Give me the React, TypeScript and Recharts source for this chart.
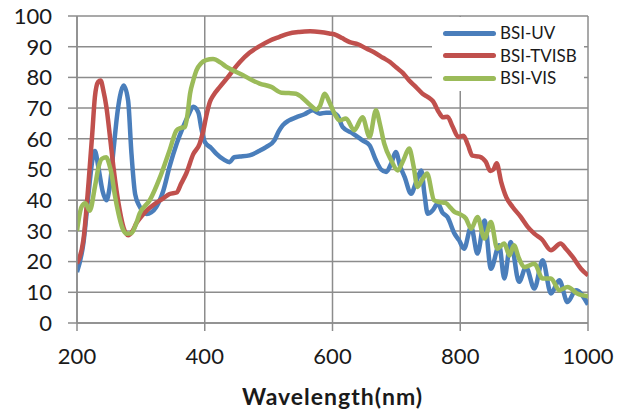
import React from 'react';
import { LineChart, Line, XAxis, YAxis, CartesianGrid } from 'recharts';

const seriesNames = ['BSI-UV', 'BSI-TVISB', 'BSI-VIS'];
const seriesColors = ['#4a7ebb', '#c0504d', '#9bbb59'];
const xTicks = [200, 400, 600, 800, 1000];
const yTicks = [0, 10, 20, 30, 40, 50, 60, 70, 80, 90, 100];
const xLabel = 'Wavelength(nm)';

const uvWavelength = [200, 210, 218, 224, 228, 234, 240, 246, 251, 257, 263, 267, 273, 280, 285, 291, 298, 304, 309, 316, 324, 335, 345, 356, 366, 374, 382, 390, 395, 400, 410, 418, 430, 439, 446, 455, 470, 485, 496, 509, 516, 522, 532, 543, 556, 569, 580, 590, 600, 608, 616, 632, 647, 658, 668, 676, 684, 692, 699, 706, 713, 723, 731, 739, 744, 749, 756, 765, 772, 780, 791, 798, 806, 817, 827, 838, 848, 861, 869, 879, 892, 903, 916, 929, 942, 955, 968, 981, 1000];
const uvValues = [16.6, 26, 42, 53, 56, 50, 43, 40, 44, 56, 68, 73.6, 77.4, 72.5, 56, 42, 38, 36, 35.5, 36, 37.8, 43, 51, 58.4, 63.8, 67.5, 70.4, 68.5, 63, 59, 57, 55.2, 53.2, 52.4, 54, 54.2, 54.6, 56, 57.3, 59.5, 62.5, 64.4, 66, 67, 68, 69.3, 68.2, 68.5, 68.5, 67.5, 63.8, 61.7, 59.5, 57.9, 53, 50, 49.2, 52, 55.7, 51, 47.5, 42.1, 46, 49.7, 42, 35.6, 36.5, 38.9, 36, 34.5, 29.1, 27, 24.2, 31.3, 22.6, 33.4, 17.7, 25.3, 14.5, 26.4, 13.4, 18.2, 11.2, 20.4, 9.6, 13.9, 6.8, 10.7, 6];

const tvisbWavelength = [200, 210, 218, 224, 228, 233, 237, 241, 246, 252, 257, 262, 267, 273, 280, 287, 293, 300, 309, 320, 335, 345, 356, 363, 371, 382, 392, 397, 403, 408, 413, 424, 434, 445, 455, 470, 486, 500, 517, 530, 548, 565, 580, 595, 606, 615, 627, 640, 653, 665, 679, 690, 700, 710, 720, 730, 741, 750, 757, 767, 773, 780, 788, 797, 805, 812, 819, 830, 840, 847, 852, 857, 864, 872, 882, 895, 905, 916, 928, 942, 957, 966, 976, 989, 1000];
const tvisbValues = [19.4, 27, 45.5, 62, 73.6, 78.5, 79, 76, 70.4, 60, 50.8, 43, 36.6, 31, 28.6, 30, 32.5, 34.5, 36.6, 38.5, 40.6, 42, 42.5, 45.4, 48.7, 55, 58.4, 62, 68, 72, 74, 77, 79.5, 82.5, 85, 88, 90.2, 91.8, 93.2, 94.2, 94.8, 95, 94.8, 94.3, 93.8, 92.8, 91.5, 90.8, 89.4, 88.2, 86.4, 85, 83.2, 81.5, 79, 77, 74.7, 73.5, 72.3, 68.5, 67, 67.2, 64, 60.6, 61, 58, 54.5, 54.2, 52.5, 49.5, 50, 52, 46, 41, 37.8, 34.5, 31.5, 29.1, 27.2, 23.7, 25.9, 24, 21.5, 17.7, 15.5];

const visWavelength = [200, 207, 213, 220, 228, 234, 239, 246, 250, 254, 259, 265, 271, 278, 285, 292, 298, 314, 330, 345, 356, 362, 369, 373, 377, 382, 387, 394, 402, 413, 425, 434, 447, 460, 473, 486, 504, 520, 532, 543, 552, 565, 575, 580, 588, 595, 603, 611, 621, 634, 647, 658, 668, 674, 681, 692, 702, 711, 720, 727, 733, 740, 748, 759, 767, 777, 785, 791, 798, 809, 817, 827, 838, 848, 858, 869, 877, 884, 892, 900, 916, 929, 942, 955, 968, 983, 1000];
const visValues = [30, 37.8, 39, 36.6, 44.3, 51, 53.5, 54, 52, 48.7, 42, 35.6, 31, 29.1, 29.2, 32, 35.6, 40, 47.5, 56.3, 62.8, 63.5, 63.8, 68, 74.7, 79, 82.3, 84.5, 85.6, 86, 84.8, 83.4, 82, 80.7, 79.2, 78, 76.9, 75, 74.9, 74.7, 73.5, 71, 69.5, 70.5, 74.7, 72, 68.3, 66, 66.6, 62.8, 67, 60.6, 69.3, 65, 58.4, 53, 49.7, 53, 56.8, 51, 44.3, 46.5, 48.7, 40, 39.4, 39.1, 37.5, 36.2, 35.6, 34, 30.7, 34.5, 27.5, 32.9, 24.2, 25.9, 22, 25.3, 21, 18.2, 19.3, 14.5, 14.5, 10.7, 11.7, 9.6, 8.7];

const toData = (wl: number[], vals: number[]) => wl.map((w, i) => ({ wl: w, v: vals[i] }));
const seriesData = [
  toData(uvWavelength, uvValues),
  toData(tvisbWavelength, tvisbValues),
  toData(visWavelength, visValues),
];

const FONT = 'Lato, "Open Sans", sans-serif';
const GRID = '#8c8c8c';

function LegendBox() {
  return (
    <div style={{ position: 'absolute', left: 432, top: 17, width: 152, height: 74, background: '#ffffff' }}>
      {seriesNames.map((name, i) => {
        const cy = 16 + i * 22.5;
        return (
          <React.Fragment key={name}>
            <div style={{ position: 'absolute', left: 11, top: cy - 2.5, width: 53, height: 5, borderRadius: 2.5, background: seriesColors[i] }} />
            <div style={{ position: 'absolute', left: 68, top: cy - 10, height: 20, lineHeight: '20px', fontSize: 17, fontFamily: FONT, color: '#1a1a1a', whiteSpace: 'nowrap' }}>{name}</div>
          </React.Fragment>
        );
      })}
    </div>
  );
}

export default function App() {
  return (
    <div style={{ position: 'absolute', left: 0, top: 0, width: 619, height: 412, background: '#ffffff' }}>
      <LineChart width={619} height={412} margin={{ top: 16, right: 31, bottom: 0, left: 0 }}>
        <CartesianGrid stroke={GRID} strokeWidth={1.5} />
        <XAxis
          type="number"
          dataKey="wl"
          domain={[200, 1000]}
          ticks={xTicks}
          interval={0}
          allowDataOverflow
          height={89}
          tickSize={8}
          tickMargin={17}
          axisLine={{ stroke: GRID, strokeWidth: 1.5 }}
          tickLine={{ stroke: GRID, strokeWidth: 1.5 }}
          tick={{ fill: '#1a1a1a', fontSize: 22, fontFamily: FONT }}
          label={{ value: xLabel, position: 'insideBottom', offset: 7, style: { fill: '#1a1a1a', fontSize: 23, fontWeight: 700, letterSpacing: 1, fontFamily: FONT } }}
        />
        <YAxis
          type="number"
          domain={[0, 100]}
          ticks={yTicks}
          interval={0}
          allowDataOverflow
          width={77}
          tickSize={9}
          tickMargin={16}
          axisLine={{ stroke: GRID, strokeWidth: 1.5 }}
          tickLine={{ stroke: GRID, strokeWidth: 1.5 }}
          tick={{ fill: '#1a1a1a', fontSize: 22, fontFamily: FONT }}
        />
        {seriesData.map((d, i) => (
          <Line
            key={seriesNames[i]}
            data={d}
            dataKey="v"
            name={seriesNames[i]}
            type="monotone"
            stroke={seriesColors[i]}
            strokeWidth={4.5}
            dot={false}
            activeDot={false}
            isAnimationActive={false}
          />
        ))}
      </LineChart>
      <LegendBox />
    </div>
  );
}
